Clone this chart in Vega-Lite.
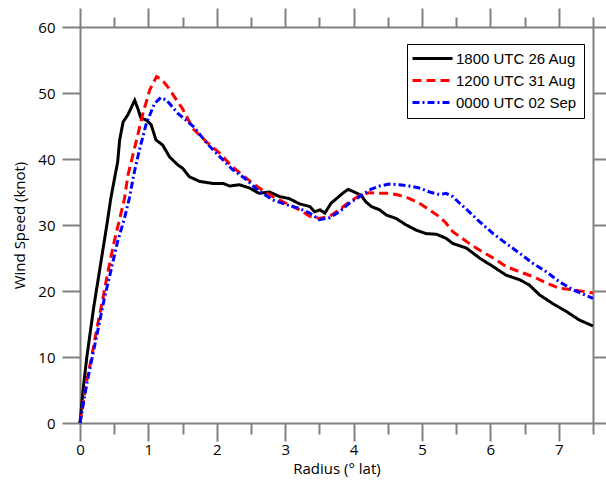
{
  "$schema": "https://vega.github.io/schema/vega-lite/v6.json",
  "width": 513,
  "height": 396,
  "autosize": {"type": "none"},
  "padding": {"left": 80, "top": 27, "right": 13, "bottom": 57},
  "background": "white",
  "config": {
    "view": {"stroke": null},
    "axis": {"labelFont": "Open Sans", "titleFont": "Open Sans", "labelColor": "black", "titleColor": "black", "titleFontWeight": "normal", "labelFontSize": 15, "titleFontSize": 15, "domainColor": "#808080", "tickColor": "#808080", "domainWidth": 2, "tickWidth": 2, "grid": false}
  },
  "layer": [
    {
      "mark": {"type": "rule", "color": "#8a8a8a", "strokeWidth": 2},
      "encoding": {
        "x": {"datum": 0, "type": "quantitative", "scale": {"domain": [0, 7.5], "nice": false, "zero": false},
          "axis": {"orient": "top", "title": null, "labels": false, "values": [0,0.5,1,1.5,2,2.5,3,3.5,4,4.5,5,5.5,6,6.5,7,7.5],
            "tickSize": {"condition": {"test": "datum.value % 1 === 0", "value": 19}, "value": 10}}},
        "x2": {"datum": 7.5},
        "y": {"datum": 34, "type": "quantitative", "scale": {"domain": [0, 60], "nice": false},
          "axis": {"orient": "right", "title": null, "labels": false, "values": [0,10,20,30,40,50,60], "tickSize": 18}}
      }
    },
    {
      "data": {"name": "curves"},
      "mark": {"type": "line", "strokeWidth": 3},
      "encoding": {
        "x": {"field": "r", "type": "quantitative", "scale": {"domain": [0, 7.5], "nice": false, "zero": false},
          "axis": {"orient": "bottom", "title": "Radius (° lat)", "titlePadding": 4, "values": [0,0.5,1,1.5,2,2.5,3,3.5,4,4.5,5,5.5,6,6.5,7,7.5],
            "labelExpr": "datum.value % 1 === 0 && datum.value < 7.5 ? format(datum.value, 'd') : ''",
            "labelPadding": 1, "labelFlush": false,
            "tickSize": {"condition": {"test": "datum.value % 1 === 0", "value": 18}, "value": 11}}},
        "y": {"field": "v", "type": "quantitative", "scale": {"domain": [0, 60], "nice": false},
          "axis": {"orient": "left", "title": "Wind Speed (knot)", "values": [0,10,20,30,40,50,60], "tickSize": 18, "labelPadding": 7, "titlePadding": 10}},
        "color": {"field": "s", "type": "nominal", "title": null,
          "scale": {"domain": ["1800 UTC 26 Aug", "1200 UTC 31 Aug", "0000 UTC 02 Sep"], "range": ["#000000", "#ff0000", "#0000ff"]},
          "legend": {"orient": "none", "legendX": 327, "legendY": 17, "symbolType": "M-5,0H5", "symbolSize": 64, "symbolStrokeWidth": 3, "symbolOffset": 11,
            "labelFont": "Liberation Sans", "labelFontSize": 15, "labelColor": "black", "labelOffset": 16, "rowPadding": 6,
            "padding": 7, "strokeColor": "black", "fillColor": "white", "labelLimit": 300}},
        "strokeDash": {"field": "s", "type": "nominal", "title": null,
          "scale": {"domain": ["1800 UTC 26 Aug", "1200 UTC 31 Aug", "0000 UTC 02 Sep"], "range": [[1, 0], [9, 5], [7, 3, 2, 3]]}},
        "order": {"field": "i", "type": "quantitative"}
      }
    }
  ],
  "resolve": {"axis": {"x": "independent", "y": "independent"}},
  "datasets": {
    "curves": [
      {"s": "1800 UTC 26 Aug", "i": 1, "r": 0, "v": 0},
      {"s": "1800 UTC 26 Aug", "i": 2, "r": 0.05, "v": 5.5},
      {"s": "1800 UTC 26 Aug", "i": 3, "r": 0.1, "v": 10},
      {"s": "1800 UTC 26 Aug", "i": 4, "r": 0.2, "v": 17.5},
      {"s": "1800 UTC 26 Aug", "i": 5, "r": 0.3, "v": 24},
      {"s": "1800 UTC 26 Aug", "i": 6, "r": 0.4, "v": 30.5},
      {"s": "1800 UTC 26 Aug", "i": 7, "r": 0.45, "v": 34},
      {"s": "1800 UTC 26 Aug", "i": 8, "r": 0.5, "v": 36.8},
      {"s": "1800 UTC 26 Aug", "i": 9, "r": 0.55, "v": 39.5},
      {"s": "1800 UTC 26 Aug", "i": 10, "r": 0.58, "v": 42.9},
      {"s": "1800 UTC 26 Aug", "i": 11, "r": 0.63, "v": 45.6},
      {"s": "1800 UTC 26 Aug", "i": 12, "r": 0.7, "v": 46.7},
      {"s": "1800 UTC 26 Aug", "i": 13, "r": 0.75, "v": 47.8},
      {"s": "1800 UTC 26 Aug", "i": 14, "r": 0.8, "v": 48.9},
      {"s": "1800 UTC 26 Aug", "i": 15, "r": 0.85, "v": 47.5},
      {"s": "1800 UTC 26 Aug", "i": 16, "r": 0.89, "v": 46.2},
      {"s": "1800 UTC 26 Aug", "i": 17, "r": 0.97, "v": 45.9},
      {"s": "1800 UTC 26 Aug", "i": 18, "r": 1.04, "v": 45.2},
      {"s": "1800 UTC 26 Aug", "i": 19, "r": 1.11, "v": 42.9},
      {"s": "1800 UTC 26 Aug", "i": 20, "r": 1.21, "v": 42.1},
      {"s": "1800 UTC 26 Aug", "i": 21, "r": 1.31, "v": 40.3},
      {"s": "1800 UTC 26 Aug", "i": 22, "r": 1.43, "v": 39.1},
      {"s": "1800 UTC 26 Aug", "i": 23, "r": 1.5, "v": 38.6},
      {"s": "1800 UTC 26 Aug", "i": 24, "r": 1.6, "v": 37.3},
      {"s": "1800 UTC 26 Aug", "i": 25, "r": 1.75, "v": 36.6},
      {"s": "1800 UTC 26 Aug", "i": 26, "r": 1.94, "v": 36.3},
      {"s": "1800 UTC 26 Aug", "i": 27, "r": 2.09, "v": 36.3},
      {"s": "1800 UTC 26 Aug", "i": 28, "r": 2.19, "v": 35.9},
      {"s": "1800 UTC 26 Aug", "i": 29, "r": 2.33, "v": 36.1},
      {"s": "1800 UTC 26 Aug", "i": 30, "r": 2.48, "v": 35.6},
      {"s": "1800 UTC 26 Aug", "i": 31, "r": 2.62, "v": 34.8},
      {"s": "1800 UTC 26 Aug", "i": 32, "r": 2.77, "v": 35.0},
      {"s": "1800 UTC 26 Aug", "i": 33, "r": 2.92, "v": 34.3},
      {"s": "1800 UTC 26 Aug", "i": 34, "r": 3.06, "v": 34.0},
      {"s": "1800 UTC 26 Aug", "i": 35, "r": 3.21, "v": 33.2},
      {"s": "1800 UTC 26 Aug", "i": 36, "r": 3.36, "v": 32.8},
      {"s": "1800 UTC 26 Aug", "i": 37, "r": 3.43, "v": 32.0},
      {"s": "1800 UTC 26 Aug", "i": 38, "r": 3.51, "v": 32.3},
      {"s": "1800 UTC 26 Aug", "i": 39, "r": 3.58, "v": 31.8},
      {"s": "1800 UTC 26 Aug", "i": 40, "r": 3.67, "v": 33.3},
      {"s": "1800 UTC 26 Aug", "i": 41, "r": 3.75, "v": 34.0},
      {"s": "1800 UTC 26 Aug", "i": 42, "r": 3.84, "v": 34.8},
      {"s": "1800 UTC 26 Aug", "i": 43, "r": 3.92, "v": 35.4},
      {"s": "1800 UTC 26 Aug", "i": 44, "r": 4.01, "v": 35.0},
      {"s": "1800 UTC 26 Aug", "i": 45, "r": 4.11, "v": 34.5},
      {"s": "1800 UTC 26 Aug", "i": 46, "r": 4.18, "v": 33.5},
      {"s": "1800 UTC 26 Aug", "i": 47, "r": 4.26, "v": 32.8},
      {"s": "1800 UTC 26 Aug", "i": 48, "r": 4.38, "v": 32.3},
      {"s": "1800 UTC 26 Aug", "i": 49, "r": 4.48, "v": 31.5},
      {"s": "1800 UTC 26 Aug", "i": 50, "r": 4.62, "v": 31.0},
      {"s": "1800 UTC 26 Aug", "i": 51, "r": 4.77, "v": 30.0},
      {"s": "1800 UTC 26 Aug", "i": 52, "r": 4.92, "v": 29.2},
      {"s": "1800 UTC 26 Aug", "i": 53, "r": 5.06, "v": 28.7},
      {"s": "1800 UTC 26 Aug", "i": 54, "r": 5.21, "v": 28.6},
      {"s": "1800 UTC 26 Aug", "i": 55, "r": 5.35, "v": 28.0},
      {"s": "1800 UTC 26 Aug", "i": 56, "r": 5.45, "v": 27.2},
      {"s": "1800 UTC 26 Aug", "i": 57, "r": 5.65, "v": 26.5},
      {"s": "1800 UTC 26 Aug", "i": 58, "r": 5.84, "v": 25.0},
      {"s": "1800 UTC 26 Aug", "i": 59, "r": 6.04, "v": 23.7},
      {"s": "1800 UTC 26 Aug", "i": 60, "r": 6.23, "v": 22.4},
      {"s": "1800 UTC 26 Aug", "i": 61, "r": 6.43, "v": 21.7},
      {"s": "1800 UTC 26 Aug", "i": 62, "r": 6.57, "v": 20.9},
      {"s": "1800 UTC 26 Aug", "i": 63, "r": 6.72, "v": 19.4},
      {"s": "1800 UTC 26 Aug", "i": 64, "r": 6.91, "v": 18.1},
      {"s": "1800 UTC 26 Aug", "i": 65, "r": 7.11, "v": 16.9},
      {"s": "1800 UTC 26 Aug", "i": 66, "r": 7.3, "v": 15.6},
      {"s": "1800 UTC 26 Aug", "i": 67, "r": 7.5, "v": 14.7},
      {"s": "1200 UTC 31 Aug", "i": 1, "r": 0, "v": 0},
      {"s": "1200 UTC 31 Aug", "i": 2, "r": 0.1, "v": 6.5},
      {"s": "1200 UTC 31 Aug", "i": 3, "r": 0.17, "v": 10},
      {"s": "1200 UTC 31 Aug", "i": 4, "r": 0.25, "v": 14.5},
      {"s": "1200 UTC 31 Aug", "i": 5, "r": 0.33, "v": 18.6},
      {"s": "1200 UTC 31 Aug", "i": 6, "r": 0.4, "v": 22.5},
      {"s": "1200 UTC 31 Aug", "i": 7, "r": 0.5, "v": 27.5},
      {"s": "1200 UTC 31 Aug", "i": 8, "r": 0.6, "v": 31.8},
      {"s": "1200 UTC 31 Aug", "i": 9, "r": 0.65, "v": 34},
      {"s": "1200 UTC 31 Aug", "i": 10, "r": 0.7, "v": 37.5},
      {"s": "1200 UTC 31 Aug", "i": 11, "r": 0.82, "v": 42.6},
      {"s": "1200 UTC 31 Aug", "i": 12, "r": 0.92, "v": 46.9},
      {"s": "1200 UTC 31 Aug", "i": 13, "r": 1.02, "v": 50.5},
      {"s": "1200 UTC 31 Aug", "i": 14, "r": 1.12, "v": 52.5},
      {"s": "1200 UTC 31 Aug", "i": 15, "r": 1.2, "v": 52.0},
      {"s": "1200 UTC 31 Aug", "i": 16, "r": 1.3, "v": 50.7},
      {"s": "1200 UTC 31 Aug", "i": 17, "r": 1.4, "v": 49.1},
      {"s": "1200 UTC 31 Aug", "i": 18, "r": 1.5, "v": 47.6},
      {"s": "1200 UTC 31 Aug", "i": 19, "r": 1.65, "v": 44.6},
      {"s": "1200 UTC 31 Aug", "i": 20, "r": 1.85, "v": 42.6},
      {"s": "1200 UTC 31 Aug", "i": 21, "r": 2.04, "v": 40.9},
      {"s": "1200 UTC 31 Aug", "i": 22, "r": 2.23, "v": 38.8},
      {"s": "1200 UTC 31 Aug", "i": 23, "r": 2.43, "v": 37.1},
      {"s": "1200 UTC 31 Aug", "i": 24, "r": 2.62, "v": 35.6},
      {"s": "1200 UTC 31 Aug", "i": 25, "r": 2.82, "v": 34.3},
      {"s": "1200 UTC 31 Aug", "i": 26, "r": 3.01, "v": 33.3},
      {"s": "1200 UTC 31 Aug", "i": 27, "r": 3.21, "v": 32.3},
      {"s": "1200 UTC 31 Aug", "i": 28, "r": 3.36, "v": 31.3},
      {"s": "1200 UTC 31 Aug", "i": 29, "r": 3.5, "v": 31.0},
      {"s": "1200 UTC 31 Aug", "i": 30, "r": 3.65, "v": 31.3},
      {"s": "1200 UTC 31 Aug", "i": 31, "r": 3.79, "v": 32.3},
      {"s": "1200 UTC 31 Aug", "i": 32, "r": 3.94, "v": 33.5},
      {"s": "1200 UTC 31 Aug", "i": 33, "r": 4.09, "v": 34.5},
      {"s": "1200 UTC 31 Aug", "i": 34, "r": 4.23, "v": 34.9},
      {"s": "1200 UTC 31 Aug", "i": 35, "r": 4.38, "v": 34.8},
      {"s": "1200 UTC 31 Aug", "i": 36, "r": 4.52, "v": 34.8},
      {"s": "1200 UTC 31 Aug", "i": 37, "r": 4.67, "v": 34.5},
      {"s": "1200 UTC 31 Aug", "i": 38, "r": 4.82, "v": 34.0},
      {"s": "1200 UTC 31 Aug", "i": 39, "r": 4.96, "v": 33.3},
      {"s": "1200 UTC 31 Aug", "i": 40, "r": 5.11, "v": 32.3},
      {"s": "1200 UTC 31 Aug", "i": 41, "r": 5.26, "v": 31.2},
      {"s": "1200 UTC 31 Aug", "i": 42, "r": 5.35, "v": 30.3},
      {"s": "1200 UTC 31 Aug", "i": 43, "r": 5.45, "v": 29.0},
      {"s": "1200 UTC 31 Aug", "i": 44, "r": 5.65, "v": 27.5},
      {"s": "1200 UTC 31 Aug", "i": 45, "r": 5.84, "v": 26.2},
      {"s": "1200 UTC 31 Aug", "i": 46, "r": 6.04, "v": 25.0},
      {"s": "1200 UTC 31 Aug", "i": 47, "r": 6.23, "v": 23.7},
      {"s": "1200 UTC 31 Aug", "i": 48, "r": 6.43, "v": 22.9},
      {"s": "1200 UTC 31 Aug", "i": 49, "r": 6.62, "v": 22.2},
      {"s": "1200 UTC 31 Aug", "i": 50, "r": 6.82, "v": 21.2},
      {"s": "1200 UTC 31 Aug", "i": 51, "r": 7.01, "v": 20.4},
      {"s": "1200 UTC 31 Aug", "i": 52, "r": 7.2, "v": 20.2},
      {"s": "1200 UTC 31 Aug", "i": 53, "r": 7.5, "v": 19.7},
      {"s": "0000 UTC 02 Sep", "i": 1, "r": 0, "v": 0},
      {"s": "0000 UTC 02 Sep", "i": 2, "r": 0.1, "v": 6},
      {"s": "0000 UTC 02 Sep", "i": 3, "r": 0.18, "v": 10},
      {"s": "0000 UTC 02 Sep", "i": 4, "r": 0.27, "v": 14.5},
      {"s": "0000 UTC 02 Sep", "i": 5, "r": 0.35, "v": 18.6},
      {"s": "0000 UTC 02 Sep", "i": 6, "r": 0.45, "v": 23},
      {"s": "0000 UTC 02 Sep", "i": 7, "r": 0.55, "v": 27.5},
      {"s": "0000 UTC 02 Sep", "i": 8, "r": 0.65, "v": 31},
      {"s": "0000 UTC 02 Sep", "i": 9, "r": 0.72, "v": 34},
      {"s": "0000 UTC 02 Sep", "i": 10, "r": 0.8, "v": 38.3},
      {"s": "0000 UTC 02 Sep", "i": 11, "r": 0.87, "v": 41.4},
      {"s": "0000 UTC 02 Sep", "i": 12, "r": 0.97, "v": 45.4},
      {"s": "0000 UTC 02 Sep", "i": 13, "r": 1.09, "v": 48.4},
      {"s": "0000 UTC 02 Sep", "i": 14, "r": 1.18, "v": 49.3},
      {"s": "0000 UTC 02 Sep", "i": 15, "r": 1.25, "v": 49.0},
      {"s": "0000 UTC 02 Sep", "i": 16, "r": 1.31, "v": 48.4},
      {"s": "0000 UTC 02 Sep", "i": 17, "r": 1.43, "v": 46.9},
      {"s": "0000 UTC 02 Sep", "i": 18, "r": 1.55, "v": 45.9},
      {"s": "0000 UTC 02 Sep", "i": 19, "r": 1.67, "v": 44.8},
      {"s": "0000 UTC 02 Sep", "i": 20, "r": 1.85, "v": 42.4},
      {"s": "0000 UTC 02 Sep", "i": 21, "r": 2.04, "v": 40.4},
      {"s": "0000 UTC 02 Sep", "i": 22, "r": 2.23, "v": 38.4},
      {"s": "0000 UTC 02 Sep", "i": 23, "r": 2.43, "v": 36.9},
      {"s": "0000 UTC 02 Sep", "i": 24, "r": 2.62, "v": 35.1},
      {"s": "0000 UTC 02 Sep", "i": 25, "r": 2.82, "v": 33.8},
      {"s": "0000 UTC 02 Sep", "i": 26, "r": 3.01, "v": 33.1},
      {"s": "0000 UTC 02 Sep", "i": 27, "r": 3.21, "v": 32.5},
      {"s": "0000 UTC 02 Sep", "i": 28, "r": 3.36, "v": 31.8},
      {"s": "0000 UTC 02 Sep", "i": 29, "r": 3.5, "v": 30.8},
      {"s": "0000 UTC 02 Sep", "i": 30, "r": 3.65, "v": 31.1},
      {"s": "0000 UTC 02 Sep", "i": 31, "r": 3.79, "v": 32.0},
      {"s": "0000 UTC 02 Sep", "i": 32, "r": 3.94, "v": 33.3},
      {"s": "0000 UTC 02 Sep", "i": 33, "r": 4.09, "v": 34.3},
      {"s": "0000 UTC 02 Sep", "i": 34, "r": 4.23, "v": 35.3},
      {"s": "0000 UTC 02 Sep", "i": 35, "r": 4.38, "v": 35.9},
      {"s": "0000 UTC 02 Sep", "i": 36, "r": 4.52, "v": 36.2},
      {"s": "0000 UTC 02 Sep", "i": 37, "r": 4.67, "v": 36.1},
      {"s": "0000 UTC 02 Sep", "i": 38, "r": 4.82, "v": 35.9},
      {"s": "0000 UTC 02 Sep", "i": 39, "r": 4.96, "v": 35.6},
      {"s": "0000 UTC 02 Sep", "i": 40, "r": 5.11, "v": 35.0},
      {"s": "0000 UTC 02 Sep", "i": 41, "r": 5.26, "v": 34.6},
      {"s": "0000 UTC 02 Sep", "i": 42, "r": 5.35, "v": 34.8},
      {"s": "0000 UTC 02 Sep", "i": 43, "r": 5.45, "v": 34.3},
      {"s": "0000 UTC 02 Sep", "i": 44, "r": 5.55, "v": 33.3},
      {"s": "0000 UTC 02 Sep", "i": 45, "r": 5.69, "v": 32.0},
      {"s": "0000 UTC 02 Sep", "i": 46, "r": 5.84, "v": 30.5},
      {"s": "0000 UTC 02 Sep", "i": 47, "r": 6.04, "v": 28.7},
      {"s": "0000 UTC 02 Sep", "i": 48, "r": 6.23, "v": 27.2},
      {"s": "0000 UTC 02 Sep", "i": 49, "r": 6.43, "v": 25.7},
      {"s": "0000 UTC 02 Sep", "i": 50, "r": 6.62, "v": 24.2},
      {"s": "0000 UTC 02 Sep", "i": 51, "r": 6.82, "v": 22.9},
      {"s": "0000 UTC 02 Sep", "i": 52, "r": 7.01, "v": 21.4},
      {"s": "0000 UTC 02 Sep", "i": 53, "r": 7.2, "v": 20.2},
      {"s": "0000 UTC 02 Sep", "i": 54, "r": 7.5, "v": 18.9}
    ]
  }
}
